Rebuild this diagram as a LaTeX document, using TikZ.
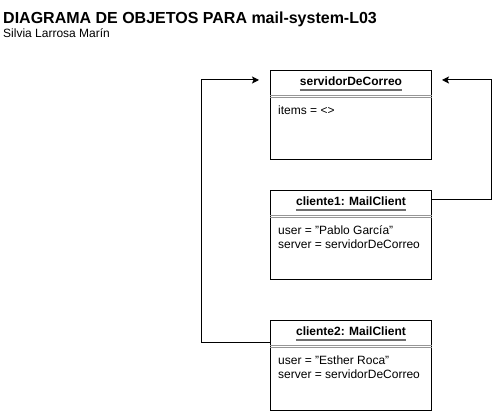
\documentclass[tikz,border=0pt]{standalone}
\usepackage{fontspec}
\setmainfont{Liberation Sans}
\usetikzlibrary{arrows.meta,calc}
\newcommand{\dq}{\symbol{34}}
\begin{document}
\begin{tikzpicture}[x=1pt,y=-1pt,
 objbox/.style={draw=black, line width=1pt, minimum width=161pt, anchor=north west, inner sep=0pt},
 hdr/.style={font=\bfseries\fontsize{12}{14}\selectfont, anchor=base, inner sep=0pt},
 attr/.style={font=\fontsize{12}{14}\selectfont, anchor=base west, inner sep=0pt},
 sep/.style={draw={rgb,255:red,150;green,150;blue,150}, line width=0.9pt},
 uline/.style={draw={rgb,255:red,110;green,110;blue,110}, line width=1.3pt},
 conn/.style={draw=black, line width=1pt, -{Stealth[length=7pt,width=7pt,inset=1.5pt]}}]
\useasboundingbox (0,0) rectangle (499,411);
% title
\node[anchor=base west, inner sep=0pt, font=\bfseries\fontsize{16}{19}\selectfont] (title) at (3,24) {DIAGRAMA DE OBJETOS PARA mail-system-L03};
\node[anchor=base west, inner sep=0pt, font=\fontsize{12}{14}\selectfont] (author) at (3,38) {Silvia Larrosa Marín};
% boxes
\node[objbox, minimum height=89pt] (srv) at (270,70) {};
\node[objbox, minimum height=89pt] (c1) at (270,190) {};
\node[objbox, minimum height=90pt] (c2) at (270,320) {};
% headers
\node[hdr] (srvh) at ($(srv.north)+(0,16)$) {servidorDeCorreo};
\node[hdr] (c1h) at ($(c1.north)+(0,16)$) {cliente1: MailClient};
\node[hdr] (c2h) at ($(c2.north)+(0,16)$) {cliente2: MailClient};
\foreach \b in {srv,c1,c2}{
  \draw[uline] ($(\b h.base west)+(0,4)$) -- ($(\b h.base east)+(0,4)$);
  \draw[sep] ($(\b.north west)+(0,25)$) -- ($(\b.north east)+(0,25)$);
  \draw[sep] ($(\b.north west)+(0,27)$) -- ($(\b.north east)+(0,27)$);
}
% attributes
\node[attr] (srva) at ($(srv.north west)+(8,45)$) {items = <>};
\node[attr] (c1a) at ($(c1.north west)+(8,45)$) {user = \dq Pablo García\dq};
\node[attr] (c1b) at ($(c1.north west)+(8,59)$) {server = servidorDeCorreo};
\node[attr] (c2a) at ($(c2.north west)+(8,45)$) {user = \dq Esther Roca\dq};
\node[attr] (c2b) at ($(c2.north west)+(8,59)$) {server = servidorDeCorreo};
% connectors
\draw[conn] ($(c2.north west)+(0,23)$) -- ++(-69,0) |- ($(srv.north west)+(-11,10)$);
\draw[conn] ($(c1.north east)+(0,10)$) -- ++(59,0) |- ($(srv.north east)+(10,10)$);
\end{tikzpicture}
\end{document}
